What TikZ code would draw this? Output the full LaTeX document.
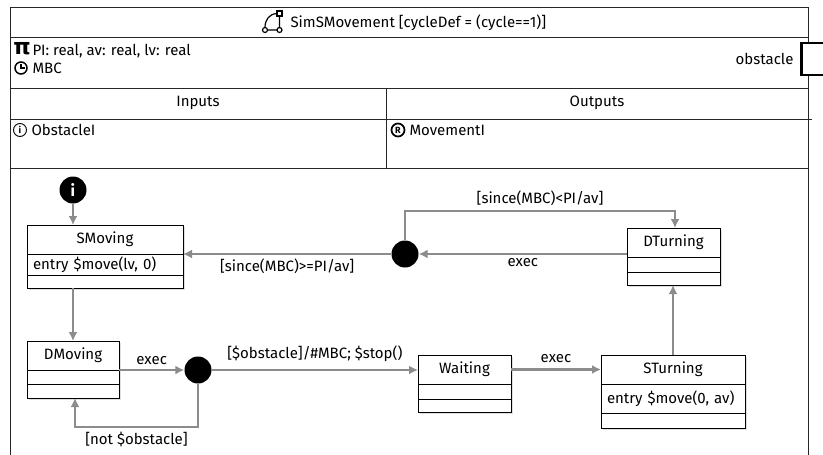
\documentclass[tikz,border=0pt]{standalone}
\usepackage{fontspec}
\setmainfont{Fira Sans}
\newfontfamily\symfont{DejaVu Sans}
\usetikzlibrary{positioning,shadows,arrows.meta}

\begin{document}
\begin{tikzpicture}[
  x=1pt,
  y=-1pt,
  every node/.style={font=\fontsize{15}{17}\selectfont},
  frame/.style={
    draw=black!85,
    line width=0.9pt
  },
  statetitle/.style={
    draw,
    fill=white,
    line width=1pt,
    outer sep=0pt,
    inner sep=0pt,
    minimum height=29pt,
    drop shadow={shadow xshift=1.5pt, shadow yshift=-1.5pt, fill=black!25}
  },
  staterow/.style={
    statetitle,
    anchor=north,
    align=left,
    inner xsep=6pt
  },
  junction/.style={
    circle,
    fill=black,
    minimum size=27pt,
    inner sep=0pt
  },
  trans/.style={
    draw=black!45,
    line width=2.3pt,
    -{Latex[length=9pt,width=9pt]}
  },
]
\useasboundingbox (0,0) rectangle (823,455);
\clip (0,0) rectangle (823,455);

% block frame
\draw[frame] (10,7) rectangle (808,470);
\draw[frame] (10,37) -- (808,37);
\draw[frame] (10,88) -- (808,88);
\draw[frame] (10,119) -- (812,119);
\draw[frame] (10,168) -- (808,168);
\draw[frame] (386,88) -- (386,168);

% title
\node[anchor=west] (title) at (287,23) {SimSMovement [cycleDef = (cycle==1)]};
\draw[line width=1.2pt] (277,11) rectangle (282,16);
\draw[line width=1.2pt] (265,30) circle (2.5) (279.5,30) circle (2.5);
\draw[line width=1.2pt] (279.5,16) -- (279.5,27.5) (267.5,30) -- (277,30)
  (265,27.5) .. controls (265,20) and (269,14) .. (277,13.5);

% parameters and clocks
\node[font=\symfont\bfseries\fontsize{22}{22}\selectfont, inner sep=0pt] (piicon) at (22,49) {π};
\node[anchor=west] (params) at (29,51) {PI: real, av: real, lv: real};
\draw[line width=1.5pt] (21,68) circle (6);
\draw[line width=1.3pt] (21,63.5) -- (21,68) -- (25,68);
\node[anchor=west] (clocks) at (29,68) {MBC};

% port
\node[draw, line width=2.6pt, fill=white, minimum width=34pt, minimum height=32pt, anchor=west] (obstacleport) at (800,59) {};
\node[left=3pt of obstacleport] (obstacletext) {obstacle};

% interfaces
\node (inputs) at (198,103) {Inputs};
\node (outputs) at (597,103) {Outputs};
\node[circle, draw, line width=0.9pt, minimum size=13pt, inner sep=0pt, font=\bfseries\fontsize{9}{9}\selectfont] (inicon) at (20,130) {i};
\node[anchor=west] (obstaclei) at (28,130) {ObstacleI};
\node[circle, draw, line width=1.7pt, minimum size=13pt, inner sep=0pt, font=\bfseries\fontsize{9}{9}\selectfont] (outicon) at (398,130) {R};
\node[anchor=west] (movementi) at (406,130) {MovementI};

% states
\node[junction, text=white, font=\bfseries\fontsize{16}{16}\selectfont] (init) at (73,190) {i};

\node[statetitle, minimum width=156pt, anchor=north west] (smoving) at (27,225) {SMoving};
\node[staterow, minimum width=156pt, minimum height=21pt, text width=144pt] (smovingentry) at (smoving.south) {entry \$move(lv, 0)};
\node[staterow, minimum width=156pt, minimum height=13pt] (smovinglast) at (smovingentry.south) {};

\node[statetitle, minimum width=92pt, anchor=north west] (dmoving) at (27,341) {DMoving};
\node[staterow, minimum width=92pt, minimum height=14pt] (dmovingentry) at (dmoving.south) {};
\node[staterow, minimum width=92pt, minimum height=14pt] (dmovinglast) at (dmovingentry.south) {};

\node[statetitle, minimum width=93pt, anchor=north west] (dturning) at (627,228) {DTurning};
\node[staterow, minimum width=93pt, minimum height=15pt] (dturningentry) at (dturning.south) {};
\node[staterow, minimum width=93pt, minimum height=13pt] (dturninglast) at (dturningentry.south) {};

\node[statetitle, minimum width=93pt, anchor=north west] (waiting) at (418,355) {Waiting};
\node[staterow, minimum width=93pt, minimum height=15pt] (waitingentry) at (waiting.south) {};
\node[staterow, minimum width=93pt, minimum height=13pt] (waitinglast) at (waitingentry.south) {};

\node[statetitle, minimum width=144pt, anchor=north west] (sturning) at (601,355) {STurning};
\node[staterow, minimum width=144pt, minimum height=29pt, text width=132pt] (sturningentry) at (sturning.south) {entry \$move(0, av)};
\node[staterow, minimum width=144pt, minimum height=15pt] (sturninglast) at (sturningentry.south) {};

\node[junction] (jturn) at (405,254) {};
\node[junction] (jmove) at (198,370) {};
\coordinate (notobs) at (75,427);

% transitions
\draw[trans] (init) -- (init |- smoving.north);
\draw[trans] (smovinglast.south -| init) -- (dmoving.north -| init);
\draw[trans] (jmove -| dmoving.east) -- (jmove) node[midway, above=1pt] {exec};
\draw[trans] (jmove) -- (jmove -| waiting.west) node[midway, above=4pt] {[\$obstacle]/\#MBC; \$stop()};
\draw[trans] (jmove) |- (notobs) node[pos=0.75, below=1pt] {[not \$obstacle]} -- (notobs |- dmovinglast.south);
\draw[trans] (waiting) -- (sturning) node[midway, above=2pt] {exec};
\draw[trans] (sturning.north) -- (sturning.north |- dturninglast.south);
\draw[trans] (jturn -| dturning.west) -- (jturn) node[midway, below=0pt] {exec};
\draw[trans] (jturn) -- (jturn -| smoving.east) node[midway, below=0pt] {[since(MBC)>=PI/av]};
\draw[trans] (jturn) -- ++(0,-43) -| ([xshift=1.5pt]dturning.north) node[pos=0.25, above=1pt] {[since(MBC)<PI/av]};
\end{tikzpicture}
\end{document}
